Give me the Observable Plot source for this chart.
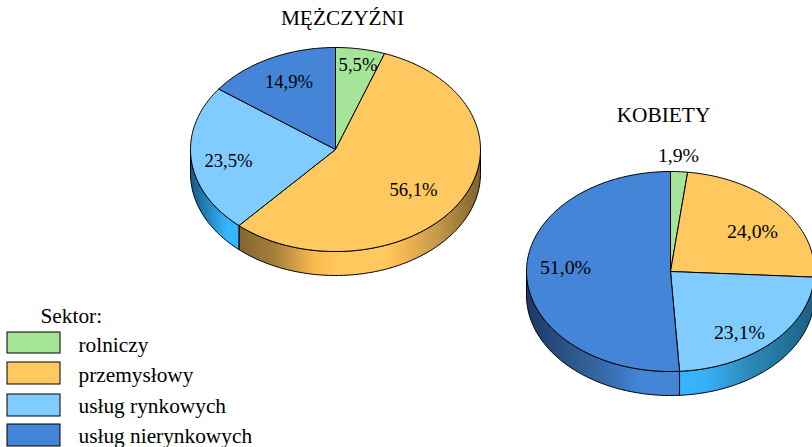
<!DOCTYPE html>
<html><head><meta charset="utf-8">
<style>html,body{margin:0;padding:0;background:#fff}svg{display:block}</style>
<script src="https://cdn.jsdelivr.net/npm/d3@7"></script>
<script src="https://cdn.jsdelivr.net/npm/@observablehq/plot@0.6"></script>
</head><body><div id="chart"></div>
<script>
const sectors = ["rolniczy","przemysłowy","usług rynkowych","usług nierynkowych"];
const sectorColors = ["#a6e597","#ffc95f","#80ccff","#4485d8"];
const menValues = [5.5,56.1,23.5,14.9];
const womenValues = [1.9,24.0,23.1,51.0];
const menLabelX = [357.5,413,228,288.5], menLabelY = [64.5,190,160.5,82];
const womenLabelX = [678,752,739,565], womenLabelY = [155,231,332.5,267.5];
const titles = ["MĘŻCZYŹNI","KOBIETY"];
const pies = [
 {name:"m",values:menValues,cx:335,cy:149,rx:145,ry:102,depth:24,size:18.67,lx:menLabelX,ly:menLabelY,tx:342,ty:17.5,
  walls:{1:[[0,"#83652d"],[.15,"#a5803c"],[.31,"#fbb950"],[.42,"#ffc95f"],[.6,"#ffc95f"],[.66,"#fbbb56"],[.82,"#c49a4a"],[1,"#7f622c"]],
         2:[[0,"#145a85"],[.35,"#2484ba"],[.75,"#37b5ff"],[1,"#37b5ff"]]}},
 {name:"w",values:womenValues,cx:670,cy:271,rx:144,ry:100,depth:24,size:19.8,lx:womenLabelX,ly:womenLabelY,tx:663,ty:114.5,
  walls:{2:[[0,"#37b5ff"],[.2,"#37aff5"],[.55,"#2a87b5"],[1,"#1c5f85"]],
         3:[[0,"#1c3a66"],[.45,"#35659f"],[.75,"#4485d8"],[1,"#4485d8"]]}}
];
const rows = [], tops = [], wallMarks = [], defsList = [];
const pt = (p,f,off=0)=>({x:p.cx+p.rx*Math.sin(f*2*Math.PI),y:p.cy-p.ry*Math.cos(f*2*Math.PI)+off});
for (const p of pies) {
  let acc = 0;
  p.values.forEach((v,i)=>{
    const a = acc/100, b = (acc+v)/100; acc += v;
    const n = Math.max(2,Math.ceil((b-a)*360));
    const arc = d3.range(n+1).map(k=>a+(b-a)*k/n);
    const id = p.name+i;
    tops.push({id:id+"c",sector:sectors[i],x:p.cx,y:p.cy});
    arc.forEach(f=>tops.push({id:id+"c",sector:sectors[i],...pt(p,f)}));
    tops.push({id:id+"c",sector:sectors[i],x:p.cx,y:p.cy});
    rows.push({text:String(v.toFixed(1)).replace(".",",")+"%",x:p.lx[i],y:p.ly[i],size:p.size});
    if (p.walls[i]) {
      // visible outer wall: lower half of the ellipse only
      const wa = Math.max(a,.25), wb = Math.min(b,.75);
      const m = Math.ceil((wb-wa)*360);
      const w = d3.range(m+1).map(k=>wa+(wb-wa)*k/m);
      const poly = [...w.map(f=>pt(p,f)),...w.slice().reverse().map(f=>pt(p,f,p.depth))];
      poly.push(poly[0]);
      const xs = poly.map(d=>d.x), gid = "wall-"+id;
      defsList.push({gid,x1:d3.min(xs),x2:d3.max(xs),stops:p.walls[i]});
      wallMarks.push(Plot.line(poly,{x:"x",y:"y",fill:`url(#${gid})`,stroke:"#000",strokeWidth:1,strokeLinejoin:"round"}));
    }
  });
}
const gradients = () => {
  const defs = d3.create("svg:defs");
  for (const g of defsList) {
    const lg = defs.append("linearGradient").attr("id",g.gid).attr("gradientUnits","userSpaceOnUse")
      .attr("x1",g.x1).attr("x2",g.x2).attr("y1",0).attr("y2",0);
    for (const [o,c] of g.stops) lg.append("stop").attr("offset",o).attr("stop-color",c);
  }
  return defs.node();
};
const legendTop = [332,362,394,424], legendBottom = [353,384,416,446], legendText = [344.5,375,405.5,436];
const legend = sectors.map((s,i)=>({sector:s,y1:legendTop[i],y2:legendBottom[i],ty:legendText[i]}));
const font = "Liberation Serif";
const ts = {fontFamily:font,fill:"#000"};
const plot = Plot.plot({
  width:812,height:447,margin:0,
  style:{background:"#fff",overflow:"hidden"},
  x:{domain:[0,812],range:[0,812],axis:null},
  y:{domain:[0,447],range:[0,447],axis:null},
  color:{domain:sectors,range:sectorColors},
  marks:[
    gradients,
    ...wallMarks,
    Plot.line(tops,{x:"x",y:"y",z:"id",fill:"sector",stroke:"#000",strokeWidth:1,strokeLinejoin:"round"}),
    Plot.text(rows,{x:"x",y:"y",text:"text",fontSize:d=>d.size,...ts}),
    Plot.text(pies.map((p,i)=>({t:titles[i],x:p.tx,y:p.ty})),{x:"x",y:"y",text:"t",fontSize:21.33,...ts}),
    Plot.rect(legend,{x1:7,x2:60,y1:"y1",y2:"y2",fill:"sector",stroke:"#000",strokeWidth:1}),
    Plot.text(legend,{x:78,y:"ty",text:"sector",textAnchor:"start",fontSize:21.33,...ts}),
    Plot.text(["Sektor:"],{x:40,y:316,text:d=>d,textAnchor:"start",fontSize:21.33,...ts})
  ]
});
document.getElementById("chart").append(plot);
</script></body></html>
